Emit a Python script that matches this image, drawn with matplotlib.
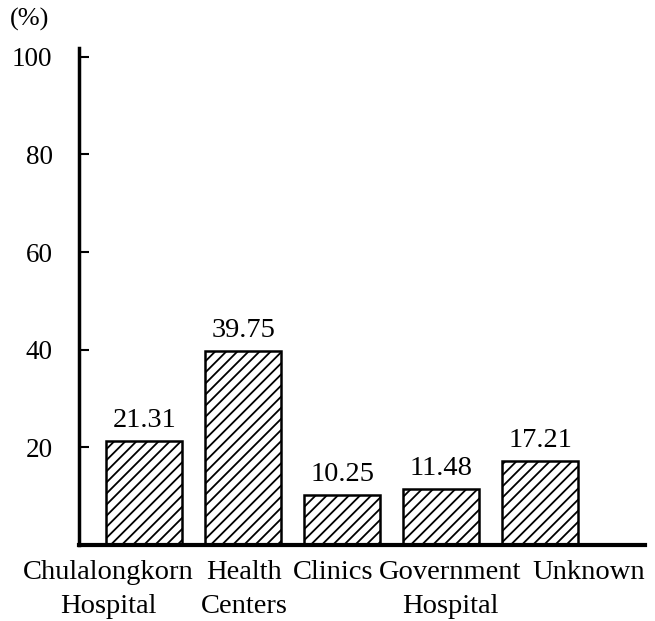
import matplotlib.pyplot as plt

# source of treatment, percent of cases
categories = ["Chulalongkorn\nHospital", "Health\nCenters", "Clinics", "Government\nHospital", "Unknown"]
percent = [21.31, 39.75, 10.25, 11.48, 17.21]
value_labels = ["21.31", "39.75", "10.25", "11.48", "17.21"]
yticks = [20, 40, 60, 80, 100]

# where the category names sit (the original has them a bit off the bar centres)
label_x = [-0.36, 1.01, 1.91, 3.09, 4.49]

plt.rcParams['font.family'] = ['Liberation Serif', 'DejaVu Serif']
plt.rcParams['hatch.linewidth'] = 1.3

fig = plt.figure(figsize=(6.55, 6.21), dpi=100)
ax = fig.add_axes([0.1206, 0.1224, 0.8644, 0.8003])

x = list(range(len(categories)))
bars = ax.bar(x, percent, width=0.77, color='white', edgecolor='black',
              linewidth=1.8, hatch='///')

for b, lab in zip(bars, value_labels):
    ax.text(b.get_x() + b.get_width() / 2, b.get_height() + 1.6, lab,
            ha='center', va='bottom', fontsize=20.5)

# category names under the axis
for lx, name in zip(label_x, categories):
    ax.text(lx, -3.0, name, ha='center', va='top', fontsize=20.5,
            linespacing=1.5, clip_on=False)

ax.set_xlim(-0.66, 5.06)
ax.set_ylim(0, 101.8)
ax.set_yticks(yticks)
ax.set_xticks([])
ax.tick_params(axis='y', direction='in', length=7, width=1.5, labelsize=19.5, pad=19)

for s in ['top', 'right']:
    ax.spines[s].set_visible(False)
ax.spines['left'].set_linewidth(2.5)
ax.spines['bottom'].set_linewidth(3)

fig.text(0.015, 0.988, "(%)", fontsize=19, va='top', ha='left')

fig.savefig("out.png", dpi=100)
